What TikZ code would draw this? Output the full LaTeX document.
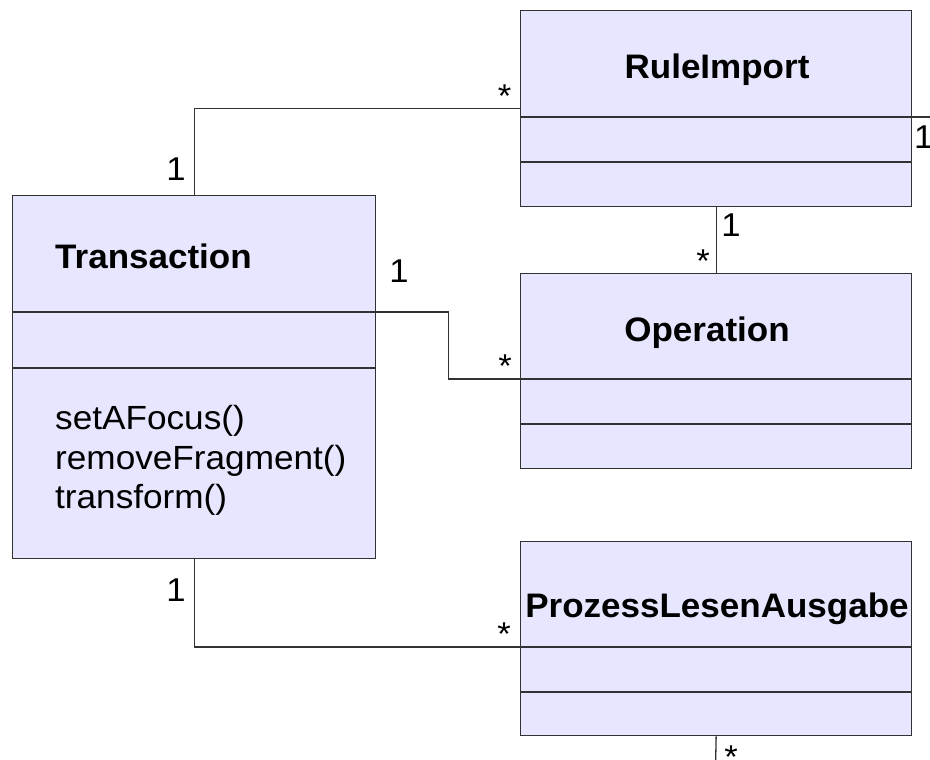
\documentclass[tikz,border=0pt]{standalone}
\usepackage{fontspec}
\setmainfont{Liberation Sans}
\newfontfamily\clsfont[FakeStretch=1.03]{Liberation Sans}
\newfontfamily\opfont[FakeStretch=1.05]{Liberation Sans}
\definecolor{classfill}{RGB}{230,230,255}
\definecolor{edgegray}{RGB}{50,50,50}
\tikzset{
  classbox/.style={draw=edgegray, line width=1.3pt, fill=classfill, rectangle,
    anchor=north west, inner sep=0pt},
  compline/.style={draw=edgegray, line width=1.3pt},
  assoc/.style={draw=edgegray, line width=1.3pt},
  cname/.style={inner sep=0pt, font=\clsfont\bfseries\fontsize{34}{40}\selectfont},
  meth/.style={inner sep=0pt, anchor=base west, font=\opfont\fontsize{33.5}{39}\selectfont},
  mult/.style={inner sep=0pt, anchor=base, font=\opfont\fontsize{33}{39}\selectfont},
}
\begin{document}
\begin{tikzpicture}[x=1pt, y=-1pt]
  \useasboundingbox (0,0) rectangle (930,760);

  % class boxes
  \node[classbox, minimum width=391pt, minimum height=196pt] (rule) at (520,10) {};
  \node[classbox, minimum width=363pt, minimum height=363pt] (trans) at (12,195) {};
  \node[classbox, minimum width=391pt, minimum height=195pt] (op) at (520,273) {};
  \node[classbox, minimum width=391pt, minimum height=194pt] (pla) at (520,541) {};

  % compartment separators
  \coordinate (rule-c1) at (520,117);
  \coordinate (rule-c2) at (520,162);
  \coordinate (trans-c1) at (12,312);
  \coordinate (trans-c2) at (12,368);
  \coordinate (op-c1) at (520,379);
  \coordinate (op-c2) at (520,424);
  \coordinate (pla-c1) at (520,647);
  \coordinate (pla-c2) at (520,692);
  \foreach \b/\c in {rule/rule-c1, rule/rule-c2, trans/trans-c1, trans/trans-c2,
                     op/op-c1, op/op-c2, pla/pla-c1, pla/pla-c2}
    \draw[compline] (\b.west |- \c) -- (\b.east |- \c);

  % class names
  \node[cname, anchor=base west] (transname) at (55,268) {Transaction};
  \node[cname, anchor=base] (rulename) at (717,78) {RuleImport};
  \node[cname, anchor=base] (opname) at (707,341) {Operation};
  \node[cname, anchor=base] (planame) at (717,617) {ProzessLesenAusgabe};

  % operations of Transaction
  \node[meth] (m1) at (55,429) {setAFocus()};
  \node[meth] (m2) at (55,469) {removeFragment()};
  \node[meth] (m3) at (55,508) {transform()};

  % associations
  \coordinate (ruleout) at (940,117);
  \coordinate (plaout) at (715.5,770);
  \draw[assoc] (trans.north) |- (rule.west);
  \draw[assoc] (trans.east |- trans-c1) -- ++(72,0) |- (op.west |- op-c1);
  \draw[assoc] (trans.south) |- (pla.west |- pla-c1);
  \draw[assoc] (rule.south) -- (op.north);
  \draw[assoc] (rule.east |- rule-c1) -- (ruleout);
  \draw[assoc] (pla.south) -- (plaout);

  % multiplicities
  \node[mult] (l1) at (504.5,107) {*};
  \node[mult] (l2) at (176,180) {1};
  \node[mult] (l3) at (399,282) {1};
  \node[mult] (l4) at (505,377) {*};
  \node[mult] (l5) at (703,272) {*};
  \node[mult] (l6) at (731,236) {1};
  \node[mult] (l7) at (176,601) {1};
  \node[mult] (l8) at (504,645) {*};
  \node[mult] (l9) at (731,768) {*};
  \node[mult, anchor=base west] (l10) at (914,148) {1};
\end{tikzpicture}
\end{document}
